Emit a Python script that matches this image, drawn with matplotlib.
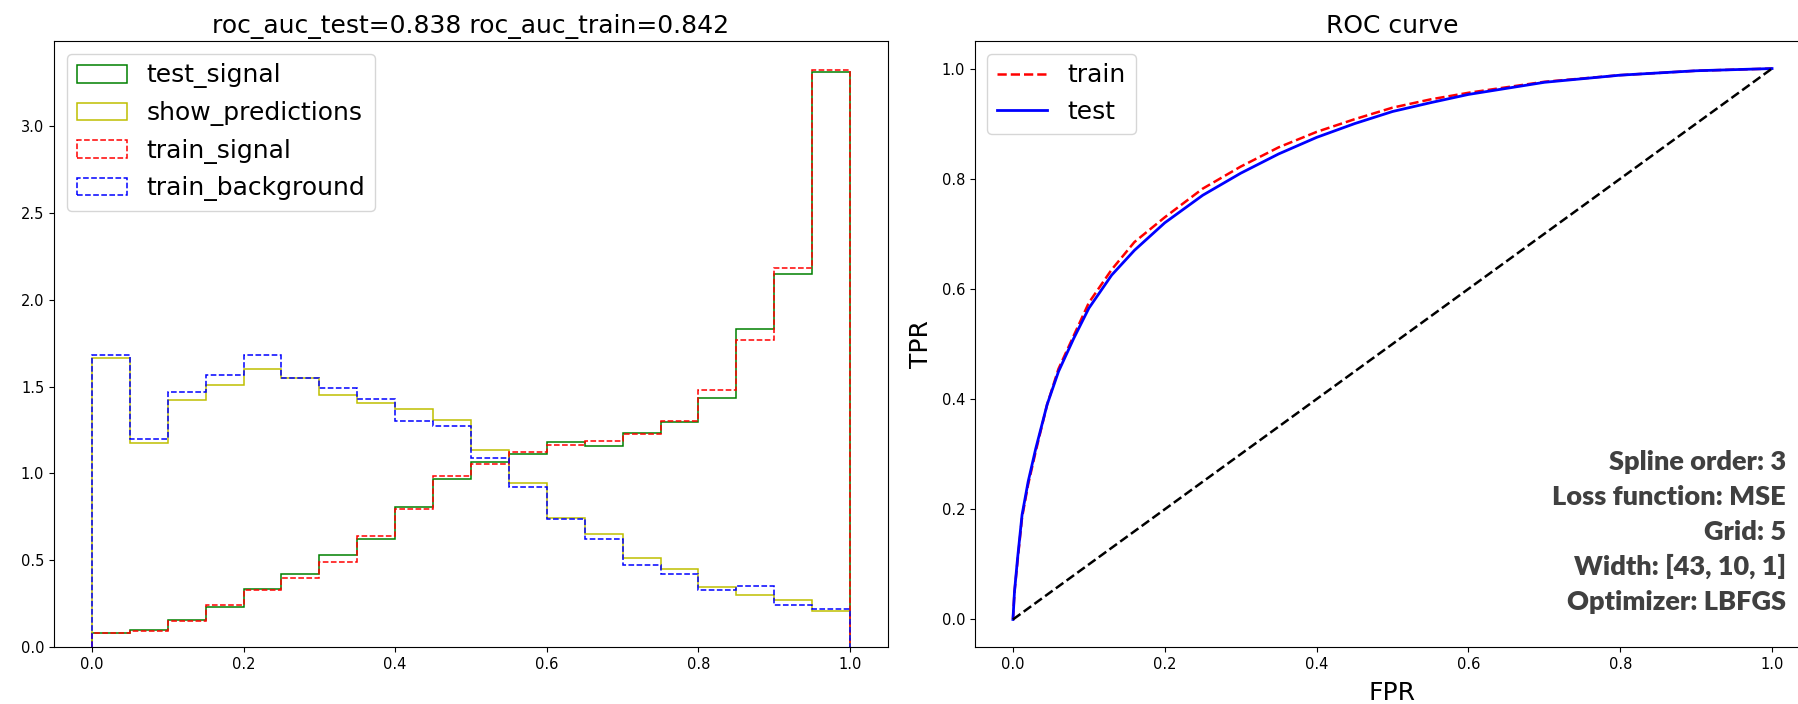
import numpy as np
import matplotlib
matplotlib.use("Agg")
import matplotlib.pyplot as plt

# ---------------- data ----------------
bin_edges = np.linspace(0.0, 1.0, 21)

test_signal = [0.083, 0.096, 0.153, 0.233, 0.335, 0.42, 0.53, 0.624, 0.808, 0.966,
               1.067, 1.113, 1.18, 1.16, 1.235, 1.297, 1.437, 1.833, 2.151, 3.311]
show_predictions = [1.667, 1.173, 1.421, 1.512, 1.602, 1.553, 1.455, 1.406, 1.369, 1.307,
                    1.134, 0.945, 0.746, 0.652, 0.513, 0.448, 0.347, 0.30, 0.272, 0.21]
train_signal = [0.083, 0.09, 0.15, 0.24, 0.33, 0.40, 0.49, 0.637, 0.795, 0.984,
                1.056, 1.124, 1.165, 1.186, 1.227, 1.302, 1.483, 1.771, 2.187, 3.326]
train_background = [1.68, 1.201, 1.468, 1.569, 1.68, 1.553, 1.491, 1.429, 1.302, 1.274,
                     1.09, 0.922, 0.738, 0.621, 0.471, 0.422, 0.331, 0.352, 0.241, 0.217]
hist_labels = ["test_signal", "show_predictions", "train_signal", "train_background"]

roc_auc_test = 0.838
roc_auc_train = 0.842

fpr = [0, 0.002, 0.006, 0.012, 0.02, 0.03, 0.045, 0.06, 0.08, 0.10, 0.13, 0.16, 0.20,
       0.25, 0.30, 0.35, 0.40, 0.45, 0.50, 0.55, 0.60, 0.70, 0.80, 0.90, 1.0]
tpr_test = [0, 0.05, 0.11, 0.19, 0.25, 0.31, 0.39, 0.45, 0.51, 0.565, 0.625, 0.67, 0.72,
            0.77, 0.81, 0.845, 0.875, 0.90, 0.922, 0.938, 0.953, 0.975, 0.988, 0.996, 1.0]
tpr_train = [0, 0.05, 0.105, 0.185, 0.245, 0.305, 0.39, 0.455, 0.515, 0.575, 0.635, 0.685, 0.73,
             0.782, 0.822, 0.857, 0.885, 0.908, 0.929, 0.944, 0.956, 0.976, 0.988, 0.996, 1.0]

info_lines = ["Spline order: 3", "Loss function: MSE", "Grid: 5",
              "Width: [43, 10, 1]", "Optimizer: LBFGS"]

# ---------------- figure ----------------
W, H = 1799, 704
fig = plt.figure(figsize=(W / 100, H / 100), dpi=100)

def px_axes(l, r, t, b):
    return [l / W, 1 - b / H, (r - l) / W, (b - t) / H]

ax1 = fig.add_axes(px_axes(54, 888, 41, 647))
ax2 = fig.add_axes(px_axes(975, 1810, 41, 647))

centers = (bin_edges[:-1] + bin_edges[1:]) / 2
styles = [dict(color="g", linestyle="-"), dict(color="y", linestyle="-"),
          dict(color="r", linestyle="--"), dict(color="b", linestyle="--")]
for vals, lab, st in zip([test_signal, show_predictions, train_signal, train_background],
                         hist_labels, styles):
    ax1.hist(centers, bins=bin_edges, weights=vals, histtype="step",
             label=lab, linewidth=1.1, **st)

ax1.set_title(f"roc_auc_test={roc_auc_test} roc_auc_train={roc_auc_train}", fontsize=18)
ax1.legend(loc="upper left", fontsize=18)
ax1.tick_params(labelsize=10.5)

ax2.plot(fpr, tpr_train, "r--", lw=1.8, label="train")
ax2.plot(fpr, tpr_test, "b-", lw=2.0, label="test")
ax2.plot([0, 1], [0, 1], "k--", lw=1.8)
ax2.set_title("ROC curve", fontsize=18)
ax2.set_xlabel("FPR", fontsize=18, labelpad=7)
ax2.set_ylabel("TPR", fontsize=18, labelpad=6)
ax2.legend(loc="upper left", fontsize=18)
ax2.tick_params(labelsize=10.5)

base_px = 470
step_px = 35
for i, line in enumerate(info_lines):
    fig.text(1786 / W, 1 - (base_px + i * step_px) / H, line, ha="right", va="baseline",
             fontsize=19.5, fontweight="heavy", color="#404040", family=["Lato", "DejaVu Sans"])

fig.savefig("out.png", dpi=100)
